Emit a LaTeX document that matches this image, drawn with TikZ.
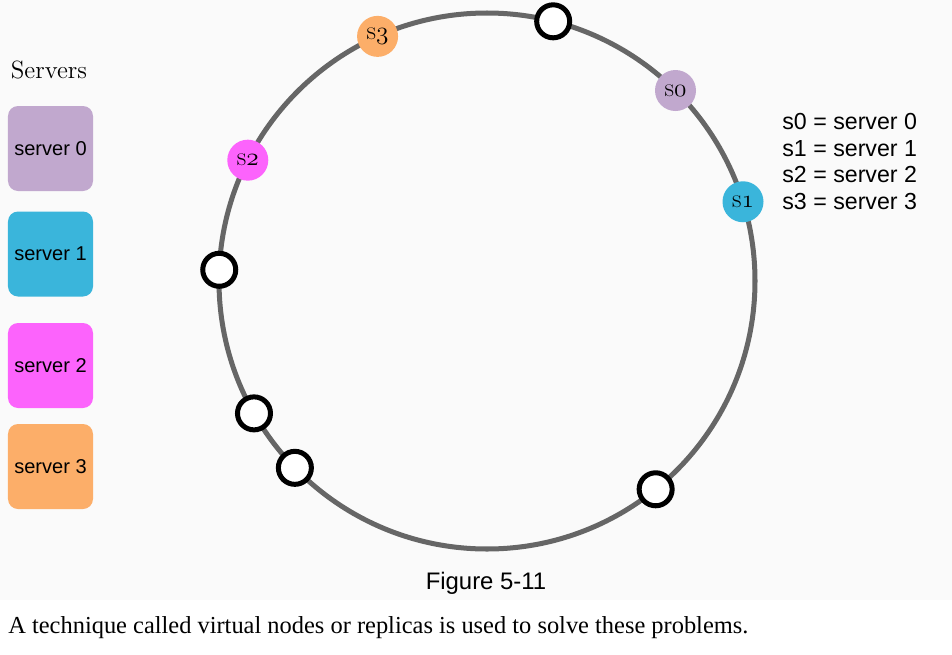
\documentclass[tikz,border=0pt]{standalone}
\usepackage{fontspec}
\newfontfamily\arialfont{Liberation Sans}
\newfontfamily\timesfont{Liberation Serif}
\usetikzlibrary{calc}
\definecolor{paper}{HTML}{FAFAFA}
\definecolor{ringgray}{HTML}{666666}
\definecolor{srvA}{HTML}{C1A8CE}
\definecolor{srvB}{HTML}{3AB5DB}
\definecolor{srvC}{HTML}{FC63FC}
\definecolor{srvD}{HTML}{FCAE69}
\def\osnum#1{$\mathnormal{#1}$}
\tikzset{
  ring/.style={line width=2.85pt, color=ringgray},
  srvbox/.style={rounded corners=0.2cm, minimum width=1.7cm, minimum height=1.7cm,
    inner sep=0pt, font=\arialfont\fontsize{11.4}{13}\selectfont},
  hashpt/.style={circle, minimum size=0.82cm, inner sep=0pt,
    font=\fontsize{15}{17}\selectfont},
  vnode/.style={circle, draw=black, fill=white, line width=2.85pt,
    minimum size=0.66cm, inner sep=0pt},
  legend/.style={anchor=west, inner sep=0pt, font=\arialfont\fontsize{13.2}{15}\selectfont}
}

\begin{document}
\begin{tikzpicture}
		%%%%% START %%%%%
		
		\fill[paper] (0,0) rectangle (19.04,-12.0);
		\useasboundingbox (0,0) rectangle (19.04,-13.1);
		
		% the ring
		\coordinate (c) at (9.74,-5.62);
		\draw[ring] (c) circle (5.36);
		
		% server boxes
		\node[font=\fontsize{14.2}{16}\selectfont] (servers) at (0.98,-1.40) {Servers};
		\node[srvbox, fill=srvA] (srv0) at (1.01,-2.97) {server 0};
		\node[srvbox, fill=srvB] (srv1) at (1.01,-5.08) {server 1};
		\node[srvbox, fill=srvC] (srv2) at (1.01,-7.31) {server 2};
		\node[srvbox, fill=srvD] (srv3) at (1.01,-9.33) {server 3};
		
		% servers on the ring
		\node[hashpt, fill=srvA] (s0) at ($(c)+(45.3:5.36)$) {s\osnum{0}};
		\node[hashpt, fill=srvB] (s1) at ($(c)+(17.2:5.36)$) {s\osnum{1}};
		\node[hashpt, fill=srvC] (s2) at ($(c)+(153.2:5.36)$) {s\osnum{2}};
		\node[hashpt, fill=srvD] (s3) at ($(c)+(114.1:5.36)$) {s\osnum{3}};
		
		% empty points
		\foreach \a [count=\i] in {75.7,177.6,209.6,224.2,309}
			\node[vnode] (v\i) at ($(c)+(\a:5.36)$) {};
		
		% legend
		\foreach \k in {0,...,3}
			\node[legend] (leg\k) at (15.64,{-2.434-0.533*\k}) {s\k{} = server \k};
		
		\node[font=\arialfont\fontsize{13.6}{15}\selectfont] (fig) at (9.72,-11.66) {Figure 5-11};
		\node[anchor=base west, inner sep=0pt, font=\timesfont\fontsize{13.9}{16}\selectfont] (caption) at (0.16,-12.66)
			{A technique called virtual nodes or replicas is used to solve these problems.};
		
		%%%%% END %%%%%
\end{tikzpicture}
\end{document}
